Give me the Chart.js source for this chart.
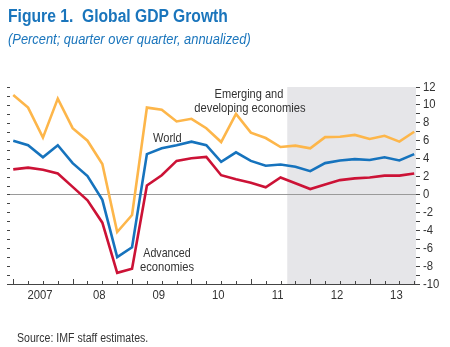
<!DOCTYPE html>
<html>
<head>
<meta charset="utf-8">
<script src="https://cdn.jsdelivr.net/npm/chart.js@4.4.1/dist/chart.umd.min.js"></script>
<style>
  html, body { margin: 0; padding: 0; background: #fff; }
  #wrap { position: relative; width: 450px; height: 347px; overflow: hidden; }
  #c { position: absolute; left: 0; top: 0; }
  .t { position: absolute; white-space: pre; line-height: 1; font-family: 'Liberation Sans Narrow', 'Arial Narrow', 'Liberation Sans', sans-serif; transform-origin: 0 0; }
  .c { transform-origin: 50% 0; text-align: center; }
</style>
</head>
<body>
<div id="wrap">
  <canvas id="c" width="450" height="347"></canvas>
  <div class="t" style="left:8px; top:6.5px; font-size:18px; font-weight:bold; color:#1a75bc; transform:scaleX(0.87);">Figure 1.  Global GDP Growth</div>
  <div class="t" style="left:8px; top:31.7px; font-size:14px; font-style:italic; color:#1a75bc; transform:scaleX(0.92);">(Percent; quarter over quarter, annualized)</div>
  <div class="t" style="left:17px; top:332px; font-size:12px; color:#333; transform:scaleX(0.88);">Source: IMF staff estimates.</div>
  <div class="t c" style="left:199px; width:100px; top:87.2px; font-size:13px; color:#333; transform:scaleX(0.85);">Emerging and</div>
  <div class="t c" style="left:170px; width:160px; top:100.5px; font-size:13px; color:#333; transform:scaleX(0.86);">developing economies</div>
  <div class="t" style="left:152.7px; top:131.3px; font-size:13px; color:#333; transform:scaleX(0.85);">World</div>
  <div class="t c" style="left:117px; width:100px; top:246.3px; font-size:13px; color:#333; transform:scaleX(0.82);">Advanced</div>
  <div class="t c" style="left:117px; width:100px; top:259.5px; font-size:13px; color:#333; transform:scaleX(0.86);">economies</div>
</div>
<script>
// Quarters 2007Q1 .. 2013Q4
const quarters = ['2007Q1','2007Q2','2007Q3','2007Q4','2008Q1','2008Q2','2008Q3','2008Q4',
                  '2009Q1','2009Q2','2009Q3','2009Q4','2010Q1','2010Q2','2010Q3','2010Q4',
                  '2011Q1','2011Q2','2011Q3','2011Q4','2012Q1','2012Q2','2012Q3','2012Q4',
                  '2013Q1','2013Q2','2013Q3','2013Q4'];
const yearLabels = ['2007','08','09','10','11','12','13'];
const emerging = [11.1, 9.7, 6.35, 10.7, 7.4, 6.0, 3.4, -4.2, -2.3, 9.7, 9.45, 8.15, 8.45, 7.4,
                  5.85, 9.0, 6.9, 6.3, 5.3, 5.45, 5.15, 6.4, 6.45, 6.65, 6.2, 6.55, 5.9, 7.0];
const world    = [6.0, 5.5, 4.15, 5.5, 3.5, 2.05, -0.6, -7.0, -5.9, 4.5, 5.15, 5.5, 5.9, 5.5,
                  3.65, 4.7, 3.75, 3.2, 3.35, 3.1, 2.6, 3.5, 3.8, 3.95, 3.85, 4.15, 3.8, 4.5];
const advanced = [2.8, 3.0, 2.75, 2.35, 0.85, -0.65, -3.15, -8.75, -8.3, 1.0, 2.15, 3.75, 4.05, 4.2,
                  2.15, 1.7, 1.3, 0.8, 1.9, 1.25, 0.6, 1.1, 1.6, 1.8, 1.9, 2.1, 2.1, 2.35];
const forecastStart = 18.45; // shaded projection period begins between 2011Q3 and 2011Q4
const yMin = -10, yMax = 12;

const FONT = "'Liberation Sans Narrow', 'Arial Narrow', 'Liberation Sans', sans-serif";
const LABEL_SQUEEZE = 0.87;
const toXY = arr => arr.map((v, i) => ({ x: i, y: v }));

function squeezedText(ctx, text, px, py, align) {
  ctx.save();
  ctx.translate(px, py);
  ctx.scale(LABEL_SQUEEZE, 1);
  ctx.textAlign = align;
  ctx.fillText(text, 0, 0);
  ctx.restore();
}

const decor = {
  id: 'decor',
  beforeDatasetsDraw(chart) {
    const { ctx, chartArea: a, scales: { x, y } } = chart;
    ctx.save();
    const sx = x.getPixelForValue(forecastStart);
    ctx.fillStyle = '#e6e6e9';
    ctx.fillRect(sx, a.top, a.right - sx, a.bottom - a.top);
    const y0 = Math.round(y.getPixelForValue(0)) + 0.5;
    ctx.strokeStyle = '#9a9a9a';
    ctx.lineWidth = 1;
    ctx.beginPath(); ctx.moveTo(a.left, y0); ctx.lineTo(a.right, y0); ctx.stroke();
    ctx.restore();
  },
  afterDraw(chart) {
    const { ctx, chartArea: a, scales: { x, y } } = chart;
    ctx.save();
    ctx.strokeStyle = '#444';
    ctx.lineWidth = 1;
    ctx.beginPath();
    quarters.forEach((q, i) => {
      const px = Math.round(x.getPixelForValue(i)) + 0.5;
      const len = (i % 4 === 0) ? 5 : 3;
      ctx.moveTo(px, a.bottom); ctx.lineTo(px, a.bottom - len);
    });
    for (let v = yMin; v <= yMax; v++) {
      const py = Math.round(y.getPixelForValue(v)) + 0.5;
      ctx.moveTo(a.left, py); ctx.lineTo(a.left + 3, py);
    }
    ctx.stroke();

    // tick labels, horizontally condensed like the original's narrow face
    ctx.fillStyle = '#333';
    ctx.font = "13px " + FONT;
    ctx.textBaseline = 'middle';
    x.ticks.forEach((t, i) => {
      squeezedText(ctx, yearLabels[i], x.getPixelForValue(t.value), a.bottom + 11, 'center');
    });
    y.ticks.forEach(t => {
      if (t.value % 2 === 0) {
        squeezedText(ctx, String(t.value), a.right + 7, y.getPixelForValue(t.value), 'left');
      }
    });
    ctx.restore();
  }
};

new Chart(document.getElementById('c'), {
  type: 'line',
  data: {
    datasets: [
      { label: 'Emerging and developing economies', data: toXY(emerging), borderColor: '#fdb64a' },
      { label: 'World', data: toXY(world), borderColor: '#1673bd' },
      { label: 'Advanced economies', data: toXY(advanced), borderColor: '#cc1236' }
    ]
  },
  options: {
    responsive: false,
    animation: false,
    devicePixelRatio: 1,
    layout: { padding: { left: 7, top: 87, right: 0, bottom: 0 } },
    elements: {
      line: { borderWidth: 2.6, tension: 0, fill: false },
      point: { radius: 0, hoverRadius: 0 }
    },
    plugins: { legend: { display: false }, tooltip: { enabled: false }, title: { display: false } },
    scales: {
      x: {
        type: 'linear',
        min: -0.42, max: 27.12,
        grid: { display: false, drawTicks: false },
        border: { display: true, color: '#444', width: 1 },
        afterBuildTicks: s => { s.ticks = yearLabels.map((_, k) => ({ value: 1.8 + 4 * k })); },
        afterFit: s => { s.height = 63; },
        ticks: { display: false, autoSkip: false }
      },
      y: {
        position: 'right',
        min: yMin, max: yMax,
        grid: { drawOnChartArea: false, drawTicks: true, tickLength: 4, color: '#444' },
        border: { display: false },
        afterFit: s => { s.width = 34; },
        ticks: { display: false, stepSize: 1, autoSkip: false }
      }
    }
  },
  plugins: [decor]
});
</script>
</body>
</html>
